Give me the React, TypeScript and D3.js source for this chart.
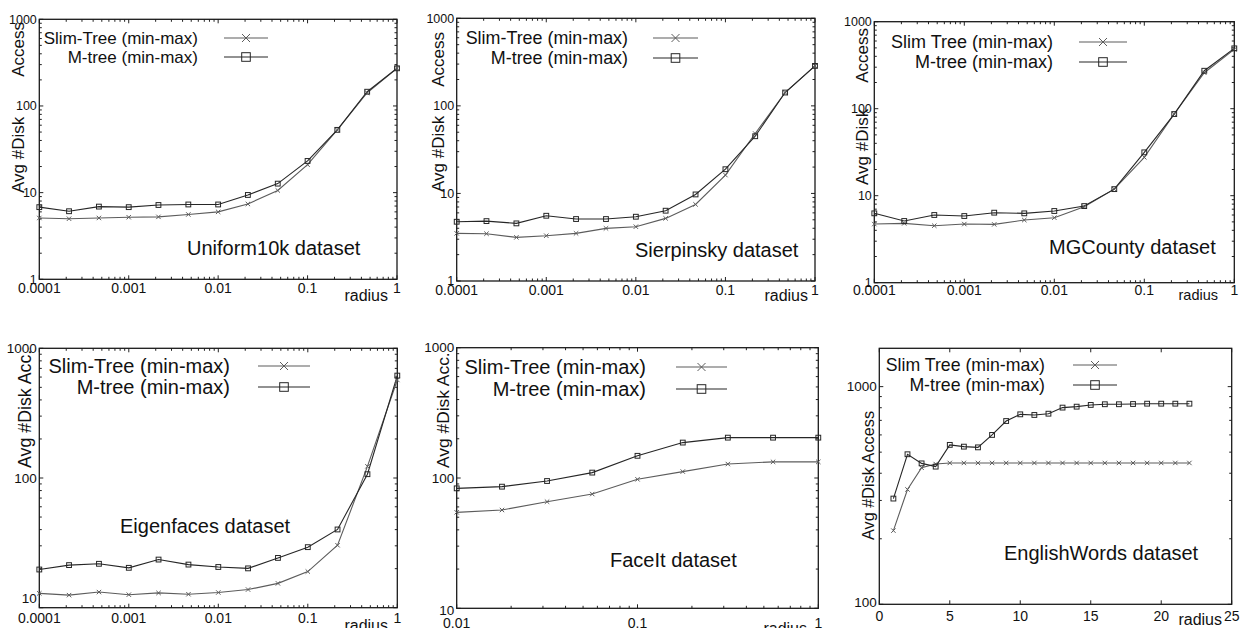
import * as d3 from "d3";
import React from "react";

// radius values (log spaced, 3 per decade)
const radiusSteps = [0.0001, 0.000215, 0.000464, 0.001, 0.00215, 0.00464, 0.01, 0.0215, 0.0464, 0.1, 0.215, 0.464, 1];
const faceitRadius = [0.01, 0.0178, 0.0316, 0.0562, 0.1, 0.178, 0.316, 0.562, 1];
const wordsRadius = [1, 2, 3, 4, 5, 6, 7, 8, 9, 10, 11, 12, 13, 14, 15, 16, 17, 18, 19, 20, 21, 22];

const uniformSlim = [5.1, 5.0, 5.1, 5.2, 5.25, 5.6, 6.0, 7.4, 10.6, 21, 53, 142, 272];
const uniformMtree = [6.8, 6.1, 6.9, 6.8, 7.2, 7.3, 7.3, 9.4, 12.7, 23.2, 53, 146, 272];
const sierpinskySlim = [3.5, 3.47, 3.15, 3.29, 3.5, 3.99, 4.17, 5.19, 7.49, 16.2, 48.3, 142, 286];
const sierpinskyMtree = [4.75, 4.83, 4.55, 5.56, 5.1, 5.1, 5.42, 6.35, 9.74, 18.9, 45, 142, 286];
const mgcountySlim = [4.72, 4.81, 4.52, 4.72, 4.68, 5.25, 5.59, 7.47, 11.9, 27.6, 86.8, 259, 481];
const mgcountyMtree = [6.27, 5.12, 6.0, 5.84, 6.38, 6.27, 6.67, 7.6, 11.9, 31.5, 86.8, 273, 494];
const eigenSlim = [12.9, 12.5, 13.2, 12.6, 13.0, 12.7, 13.1, 13.8, 15.4, 19.0, 30.3, 123, 570];
const eigenMtree = [19.7, 21.3, 21.8, 20.3, 23.5, 21.5, 20.6, 20.1, 24.2, 29.3, 40.1, 107, 616];
const faceitSlim = [54.5, 56.8, 65.8, 75.3, 97.7, 112, 128, 133, 133];
const faceitMtree = [83.3, 85.8, 94.8, 110, 148, 187, 204, 204, 204];
const wordsSlim = [218, 337, 424, 441, 446, 446, 446, 446, 446, 446, 446, 446, 446, 446, 446, 446, 446, 446, 446, 446, 446, 446];
const wordsMtree = [306, 489, 444, 429, 540, 530, 526, 600, 695, 746, 741, 751, 801, 809, 824, 830, 830, 832, 835, 835, 835, 835];

const xTicksWide = [0.0001, 0.001, 0.01, 0.1, 1];
const xTicksWideLabels = ["0.0001", "0.001", "0.01", "0.1", "1"];
const xTicksNarrow = [0.01, 0.1, 1];
const xTicksNarrowLabels = ["0.01", "0.1", "1"];
const xTicksWords = [0, 5, 10, 15, 20, 25];
const xTicksWordsLabels = ["0", "5", "10", "15", "20", "25"];
const yTicks4 = [1, 10, 100, 1000];
const yTicks3 = [10, 100, 1000];
const yTicks2 = [100, 1000];

const slimLabel = "Slim-Tree (min-max)";
const slimLabelNoDash = "Slim Tree (min-max)";
const mtreeLabel = "M-tree (min-max)";

const FONT = "'Liberation Sans', Arial, Helvetica, sans-serif";
const SLIM_COLOR = "#5c5c5c";
const MTREE_COLOR = "#262626";
const INK = "#111";

const panels = [
  {
    frame: [39.3, 19.3, 397, 279.3], xLog: true, xDomain: [0.0001, 1], yDomain: [1, 1000],
    xs: radiusSteps, slim: uniformSlim, mtree: uniformMtree,
    xTicks: xTicksWide, xLabels: xTicksWideLabels, yTicks: yTicks4,
    legend: { end: 198, l0: 224, l1: 268, rows: [38, 57], size: 17, slim: slimLabel },
    title: { text: "Uniform10k dataset", x: 187, y: 248 },
    yTitle: { x: 18, size: 17, parts: [{ text: "Avg #Disk", y: 193, anchor: "start" }, { text: "Access", y: 22, anchor: "end" }] },
    radius: { end: 388, y: 301, size: 16 }, xOff: 9, yTickSize: 12.5, bottomShift: 0,
  },
  {
    frame: [456.7, 18.3, 815, 281], xLog: true, xDomain: [0.0001, 1], yDomain: [1, 1000],
    xs: radiusSteps, slim: sierpinskySlim, mtree: sierpinskyMtree,
    xTicks: xTicksWide, xLabels: xTicksWideLabels, yTicks: yTicks4,
    legend: { end: 628, l0: 653, l1: 698, rows: [38, 58], size: 17.9, slim: slimLabel },
    title: { text: "Sierpinsky dataset", x: 635, y: 250 },
    yTitle: { x: 438, size: 17, parts: [{ text: "Avg #Disk", y: 192, anchor: "start" }, { text: "Access", y: 32, anchor: "end" }] },
    radius: { end: 808, y: 301, size: 16 }, xOff: 9, yTickSize: 12.5, bottomShift: 0,
  },
  {
    frame: [874.3, 21.7, 1234.3, 282.7], xLog: true, xDomain: [0.0001, 1], yDomain: [1, 1000],
    xs: radiusSteps, slim: mgcountySlim, mtree: mgcountyMtree,
    xTicks: xTicksWide, xLabels: xTicksWideLabels, yTicks: yTicks4,
    legend: { end: 1053, l0: 1079, l1: 1127, rows: [42, 62], size: 18, slim: slimLabelNoDash },
    title: { text: "MGCounty dataset", x: 1049, y: 247 },
    yTitle: { x: 862, size: 17, parts: [{ text: "Avg #Disk", y: 185, anchor: "start" }, { text: "Access", y: 28, anchor: "end" }] },
    radius: { end: 1218, y: 300, size: 14.5 }, xOff: 7, yTickSize: 12.5, bottomShift: 0,
  },
  {
    frame: [39.3, 348.3, 397.3, 607.7], xLog: true, xDomain: [0.0001, 1], yDomain: [10, 1000],
    xs: radiusSteps, slim: eigenSlim, mtree: eigenMtree,
    xTicks: xTicksWide, xLabels: xTicksWideLabels, yTicks: yTicks3,
    legend: { end: 230, l0: 258, l1: 310, rows: [366, 387], size: 20, slim: slimLabel },
    title: { text: "Eigenfaces dataset", x: 120, y: 526 },
    yTitle: { x: 25, size: 17.8, parts: [{ text: "Avg #Disk Acc.", y: 468, anchor: "start" }] },
    radius: { end: 388, y: 631, size: 16 }, xOff: 10, yTickSize: 13.5, bottomShift: -9,
  },
  {
    frame: [456.7, 347.7, 818.3, 608.3], xLog: true, xDomain: [0.01, 1], yDomain: [10, 1000],
    xs: faceitRadius, slim: faceitSlim, mtree: faceitMtree,
    xTicks: xTicksNarrow, xLabels: xTicksNarrowLabels, yTicks: yTicks3,
    legend: { end: 646, l0: 676, l1: 727, rows: [367, 389], size: 20, slim: slimLabel },
    title: { text: "FaceIt dataset", x: 610, y: 560 },
    yTitle: { x: 443, size: 17.4, parts: [{ text: "Avg #Disk Acc.", y: 468, anchor: "start" }] },
    radius: { end: 807, y: 634, size: 16 }, xOff: 14.5, yTickSize: 13.5, bottomShift: 2,
  },
  {
    frame: [879.3, 348.3, 1231.7, 604.3], xLog: false, xDomain: [0, 25], yDomain: [100, 1500],
    xs: wordsRadius, slim: wordsSlim, mtree: wordsMtree,
    xTicks: xTicksWords, xLabels: xTicksWordsLabels, yTicks: yTicks2,
    legend: { end: 1045, l0: 1073, l1: 1117, rows: [365, 385], size: 17.7, slim: slimLabelNoDash },
    title: { text: "EnglishWords dataset", x: 1004, y: 553 },
    yTitle: { x: 868, size: 16.3, parts: [{ text: "Avg #Disk Access", y: 540, anchor: "start" }] },
    radius: { end: 1222, y: 625, size: 16 }, xOff: 12, yTickSize: 13.5, bottomShift: -2,
  },
];

function Cross({ cx, cy, r, color }) {
  return (
    <path d={`M${cx - r},${cy - r}L${cx + r},${cy + r}M${cx - r},${cy + r}L${cx + r},${cy - r}`}
      stroke={color} strokeWidth={1} fill="none" />
  );
}

function Square({ cx, cy, r, color }) {
  return <rect x={cx - r} y={cy - r} width={2 * r} height={2 * r} stroke={color} strokeWidth={1} fill="none" />;
}

const isDecade = (v) => Math.abs(Math.log10(v) - Math.round(Math.log10(v))) < 1e-6;

function Panel({ p }) {
  const [l, t, r, b] = p.frame;
  const x = p.xLog
    ? d3.scaleLog().domain(p.xDomain).range([l, r])
    : d3.scaleLinear().domain(p.xDomain).range([l, r]);
  const y = d3.scaleLog().domain(p.yDomain).range([b, t]);

  const yAll = y.ticks().filter((v) => v >= p.yDomain[0] - 1e-9 && v <= p.yDomain[1] + 1e-9);
  const xAll = p.xLog ? x.ticks() : p.xTicks;
  const xMajor = (v) => (p.xLog ? isDecade(v) : true);

  const line = d3.line().x((d) => x(d[0])).y((d) => y(d[1]));
  const slimPts = d3.zip(p.xs, p.slim);
  const mtreePts = d3.zip(p.xs, p.mtree);

  const major = 4;
  const minor = 2.5;
  const lg = p.legend;

  return (
    <g fontFamily={FONT} fill={INK}>
      {/* inner ticks, mirrored on all sides */}
      <g stroke="#222" strokeWidth={1}>
        {yAll.map((v, i) => {
          const len = isDecade(v) ? major : minor;
          const yy = y(v);
          return (
            <g key={"y" + i}>
              <line x1={l} x2={l + len} y1={yy} y2={yy} />
              <line x1={r} x2={r - len} y1={yy} y2={yy} />
            </g>
          );
        })}
        {xAll.map((v, i) => {
          const len = xMajor(v) ? major : minor;
          const xx = x(v);
          return (
            <g key={"x" + i}>
              <line x1={xx} x2={xx} y1={b} y2={b - len} />
              <line x1={xx} x2={xx} y1={t} y2={t + len} />
            </g>
          );
        })}
      </g>
      <rect x={l} y={t} width={r - l} height={b - t} fill="none" stroke="#1a1a1a" strokeWidth={1.3} />

      {/* tick labels */}
      {p.yTicks.map((v, i) => (
        <text key={"yl" + i} x={l - 2.5} y={y(v) + (i === 0 ? p.bottomShift : 0)} dy="0.35em"
          textAnchor="end" fontSize={p.yTickSize}>{String(v)}</text>
      ))}
      {p.xTicks.map((v, i) => (
        <text key={"xl" + i} x={x(v)} y={b + p.xOff} dy="0.35em" textAnchor="middle" fontSize={14}>
          {p.xLabels[i]}
        </text>
      ))}
      <text x={p.radius.end} y={p.radius.y} textAnchor="end" fontSize={p.radius.size}>radius</text>

      {/* axis title */}
      {p.yTitle.parts.map((part, i) => (
        <text key={"yt" + i} transform={`translate(${p.yTitle.x},${part.y}) rotate(-90)`} dy="0.35em"
          textAnchor={part.anchor} fontSize={p.yTitle.size}>{part.text}</text>
      ))}

      {/* dataset label */}
      <text x={p.title.x} y={p.title.y} dy="0.35em" fontSize={20}>{p.title.text}</text>

      {/* series */}
      <path d={line(slimPts)} fill="none" stroke={SLIM_COLOR} strokeWidth={1.1} />
      <path d={line(mtreePts)} fill="none" stroke={MTREE_COLOR} strokeWidth={1.1} />
      {slimPts.map((d, i) => <Cross key={"s" + i} cx={x(d[0])} cy={y(d[1])} r={2.2} color={SLIM_COLOR} />)}
      {mtreePts.map((d, i) => <Square key={"m" + i} cx={x(d[0])} cy={y(d[1])} r={2.4} color={MTREE_COLOR} />)}

      {/* legend */}
      <text x={lg.end} y={lg.rows[0]} dy="0.35em" textAnchor="end" fontSize={lg.size}>{lg.slim}</text>
      <text x={lg.end} y={lg.rows[1]} dy="0.35em" textAnchor="end" fontSize={lg.size}>{mtreeLabel}</text>
      <line x1={lg.l0} x2={lg.l1} y1={lg.rows[0]} y2={lg.rows[0]} stroke={SLIM_COLOR} strokeWidth={1.1} />
      <line x1={lg.l0} x2={lg.l1} y1={lg.rows[1]} y2={lg.rows[1]} stroke={MTREE_COLOR} strokeWidth={1.1} />
      <Cross cx={(lg.l0 + lg.l1) / 2} cy={lg.rows[0]} r={4} color={SLIM_COLOR} />
      <Square cx={(lg.l0 + lg.l1) / 2} cy={lg.rows[1]} r={4.3} color={MTREE_COLOR} />
    </g>
  );
}

export default function App() {
  return (
    <svg width={1245} height={628} style={{ position: "absolute", left: 0, top: 0, background: "#fff" }}>
      <rect width={1245} height={628} fill="#fff" />
      {panels.map((p, i) => <Panel key={i} p={p} />)}
    </svg>
  );
}
